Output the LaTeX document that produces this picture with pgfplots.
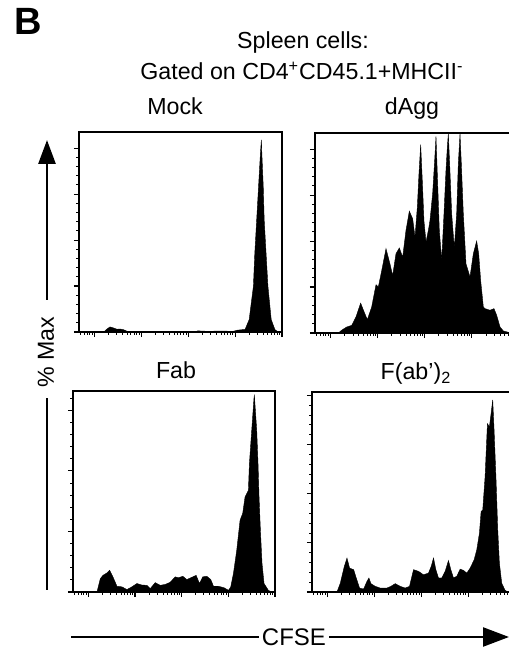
\documentclass[border=0pt]{standalone}
\usepackage{pgfplots}
\pgfplotsset{compat=1.18}
\usepackage{fontspec}
\setmainfont{Liberation Sans}
\usetikzlibrary{arrows.meta}

% x axis in decades of CFSE intensity (log10), y in % of max
\pgfplotsset{
  flowpanel/.style={
    scale only axis, anchor=south west,
    xmin=0.67, xmax=5, ymin=0,
    xtick={1,2,3,4,5},
    minor xtick={0.699,0.778,0.845,0.903,0.954,
      1.301,1.477,1.602,1.699,1.778,1.845,1.903,1.954,
      2.301,2.477,2.602,2.699,2.778,2.845,2.903,2.954,
      3.301,3.477,3.602,3.699,3.778,3.845,3.903,3.954,
      4.301,4.477,4.602,4.699,4.778,4.845,4.903,4.954},
    ytick={0,20,40,60,80}, minor y tick num=4,
    xticklabels={}, yticklabels={},
    tick align=outside, tick pos=left,
    major tick length=2.6pt, minor tick length=1.4pt,
    major tick style={black, line width=0.55pt},
    minor tick style={black, line width=0.5pt},
    axis line style={line width=0.7pt},
  },
  hist/.style={fill=black, draw=black, line width=0.2pt},
}
\newcommand{\lab}{\fontsize{11.6}{13}\selectfont}

\begin{document}
\begin{tikzpicture}
\path[use as bounding box] (0,0) rectangle (254.5pt,324.5pt);
\clip (0,0) rectangle (254.5pt,324.5pt);

% Mock
\begin{axis}[flowpanel, at={(39.5pt,158.5pt)}, width=101.5pt, height=100pt, ymax=87]
\addplot[hist] coordinates {(0.67,0) (1.20,0) (1.26,1.2) (1.33,2.2) (1.40,1.8) (1.48,1.2) (1.55,1.3) (1.62,1.0) (1.70,0.3) (1.76,0) (3.15,0) (3.20,0.5) (3.30,0.4) (3.40,0.3) (3.70,0.4) (3.96,0.3) (4.05,0.8) (4.15,1.0) (4.21,1.0) (4.30,5.4) (4.39,19.9) (4.42,34.3) (4.46,48.8) (4.50,63.3) (4.54,77.8) (4.56,83.6) (4.57,77.8) (4.60,63.3) (4.62,48.8) (4.66,34.3) (4.70,19.9) (4.77,5.4) (4.85,1.0) (4.92,0) (5,0)} \closedcycle;
\end{axis}

% dAgg
\begin{axis}[flowpanel, at={(157.5pt,158pt)}, width=102pt, height=100pt, ymax=87]
\addplot[hist] coordinates {(0.67,0) (1.165,0) (1.236,1.2) (1.342,2.6) (1.448,3.3) (1.540,7) (1.639,13) (1.696,10) (1.781,5.8) (1.873,11.3) (1.965,21) (2.014,20) (2.085,27) (2.177,36.7) (2.262,30) (2.318,25) (2.389,34.5) (2.460,37) (2.531,33) (2.601,44.6) (2.672,53) (2.743,49.7) (2.793,41.7) (2.842,54.8) (2.877,69.3) (2.913,82) (2.948,66) (2.983,48.7) (3.026,39.6) (3.076,44.6) (3.111,49.0) (3.167,60.6) (3.210,75.1) (3.238,85.5) (3.266,69.3) (3.309,44.6) (3.359,31.6) (3.408,51.9) (3.450,70.7) (3.479,80.9) (3.500,86.7) (3.528,73.6) (3.571,51.9) (3.627,37) (3.677,51.9) (3.712,73.6) (3.748,86.7) (3.776,73.6) (3.818,51.9) (3.875,30.1) (3.960,24.4) (4.031,34.5) (4.101,40) (4.144,34.5) (4.186,22.9) (4.243,11.3) (4.278,10.6) (4.384,9.9) (4.469,10.6) (4.526,7.7) (4.597,2.6) (4.667,0.9) (4.773,0.3) (4.85,0) (5,0)} \closedcycle;
\end{axis}

% Fab
\begin{axis}[flowpanel, at={(36.5pt,28.5pt)}, width=101pt, height=100.5pt, ymax=66.4]
\addplot[hist] coordinates {(0.67,0) (1.184,0) (1.255,4.4) (1.312,5.5) (1.398,6.3) (1.455,7.2) (1.526,5.0) (1.612,1.9) (1.719,1.7) (1.826,0.8) (1.933,1.7) (2.040,2.8) (2.147,2.3) (2.254,2.2) (2.325,1.1) (2.432,3.1) (2.539,2.2) (2.646,2.5) (2.753,3.2) (2.860,5.0) (2.931,4.7) (3.024,5.2) (3.110,4.1) (3.195,4.7) (3.310,5.5) (3.381,2.8) (3.452,5.0) (3.538,5.2) (3.623,4.1) (3.681,1.9) (3.788,1.9) (3.909,1.4) (4.002,0.55) (4.052,1.7) (4.109,6.1) (4.180,13.8) (4.251,23.7) (4.308,26) (4.358,31.4) (4.430,33.6) (4.451,42.4) (4.501,53.4) (4.551,64.4) (4.558,64.9) (4.608,53.4) (4.636,42.4) (4.658,31.4) (4.687,20.4) (4.722,9.4) (4.765,2.8) (4.858,0.55) (4.93,0) (5,0)} \closedcycle;
\end{axis}

% F(ab')2
\begin{axis}[flowpanel, at={(156pt,28.5pt)}, width=101.5pt, height=100pt, ymax=81.4]
\addplot[hist] coordinates {(0.67,0) (1.203,0) (1.274,3.6) (1.359,10.4) (1.416,13.8) (1.472,9.7) (1.558,9.1) (1.614,5.7) (1.685,1.6) (1.771,1.2) (1.842,4.3) (1.884,5.7) (1.927,3.4) (2.019,2.3) (2.126,1.6) (2.268,1.6) (2.353,2.3) (2.445,3.4) (2.552,2.3) (2.658,1.6) (2.750,2.3) (2.836,9.1) (2.942,8.4) (3.049,7.0) (3.155,7.7) (3.212,10.4) (3.262,13.8) (3.312,9.1) (3.368,5.7) (3.439,5.7) (3.510,8.4) (3.581,12.8) (3.631,9.1) (3.688,5.7) (3.759,6.4) (3.830,9.3) (3.901,8.8) (3.972,7.7) (4.043,9.7) (4.128,13.1) (4.185,17.2) (4.241,23.9) (4.277,32.7) (4.312,33.4) (4.362,46.9) (4.412,68.5) (4.454,67.2) (4.490,72.6) (4.525,78.2) (4.554,65.8) (4.596,45.5) (4.632,25.3) (4.667,11.8) (4.717,3.6) (4.788,0.7) (4.85,0) (5,0)} \closedcycle;
\end{axis}

% titles
\node[anchor=base west, font=\bfseries\fontsize{19}{21}\selectfont, inner sep=0pt] at (7pt,307pt) {B};
\node[anchor=base, font=\lab, inner sep=0pt] at (151.5pt,300pt) {Spleen cells:};
\node[anchor=base, font=\lab, inner sep=0pt] at (151pt,284.5pt) {Gated on CD4\textsuperscript{+}CD45.1+MHCII\textsuperscript{-}};
\node[anchor=base, font=\lab, inner sep=0pt] at (87.5pt,267pt) {Mock};
\node[anchor=base, font=\lab, inner sep=0pt] at (206pt,267pt) {dAgg};
\node[anchor=base, font=\lab, inner sep=0pt] at (88pt,135pt) {Fab};
\node[anchor=base, font=\lab, inner sep=0pt] at (208pt,134.5pt) {F(ab’)\textsubscript{2}};

% % Max axis
\draw[line width=1.4pt, -{Triangle[length=12pt,width=8.5pt]}] (23.5pt,174.5pt) -- (23.5pt,254.5pt);
\draw[line width=1.4pt] (23.5pt,29.5pt) -- (23.5pt,125.5pt);
\node[rotate=90, font=\lab, inner sep=0pt] at (23pt,148.5pt) {\% Max};

% CFSE axis
\draw[line width=1.2pt] (35.5pt,6pt) -- (129.5pt,6pt);
\node[font=\fontsize{12}{13}\selectfont, inner sep=0pt] at (147pt,6pt) {CFSE};
\draw[line width=1.2pt, -{Triangle[length=13pt,width=9.5pt]}] (164.5pt,6pt) -- (254.5pt,6pt);
\end{tikzpicture}
\end{document}
